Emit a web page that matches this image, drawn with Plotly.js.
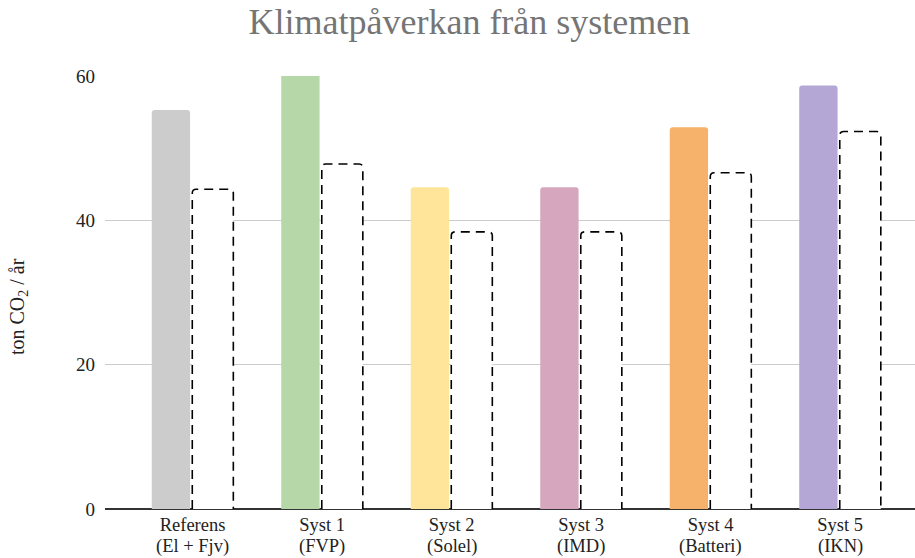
<!DOCTYPE html>
<html>
<head>
<meta charset="utf-8">
<script src="https://cdn.plot.ly/plotly-3.0.1.min.js"></script>
<style>html,body{margin:0;padding:0;background:#fff;}#chart{width:915px;height:558px;}</style>
</head>
<body>
<div id="chart"></div>
<script>
const categoryNames = ["Referens", "Syst 1", "Syst 2", "Syst 3", "Syst 4", "Syst 5"];
const categorySubs = ["(El + Fjv)", "(FVP)", "(Solel)", "(IMD)", "(Batteri)", "(IKN)"];
const filledValues = [55.3, 62, 44.6, 44.6, 52.9, 58.7];
const dashedValues = [44.3, 47.8, 38.4, 38.4, 46.6, 52.3];
const barColors = ["#cccccc", "#b6d7a8", "#ffe599", "#d5a6bd", "#f6b26b", "#b4a7d6"];
const yTicks = [0, 20, 40, 60];

const FONT = "Liberation Serif, Georgia, serif";
const xs = categoryNames.map((_, i) => i);

const filledOffset = -0.315, filledWidth = 0.296;
const dashOffset = -0.002, dashWidth = 0.317;

const traces = [
  {
    type: "bar", x: xs, y: filledValues,
    offset: filledOffset, width: filledWidth,
    marker: { color: barColors, cornerradius: 3, line: { width: 0 } },
    hoverinfo: "y", showlegend: false
  },
  {
    type: "bar", x: xs, y: dashedValues,
    offset: dashOffset, width: dashWidth,
    marker: { color: "#ffffff", line: { width: 0 } },
    hoverinfo: "y", showlegend: false
  }
];

// dashed outlines (open at the bottom, rounded top corners), derived from dashedValues
const rx = 0.03, ry = 0.55;
const shapes = dashedValues.map((v, i) => {
  const l = i + dashOffset, r = l + dashWidth;
  const path = `M ${l},0 L ${l},${v - ry} Q ${l},${v} ${l + rx},${v} L ${r - rx},${v} Q ${r},${v} ${r},${v - ry} L ${r},0`;
  return { type: "path", xref: "x", yref: "y", path: path, layer: "above",
           line: { color: "#000000", width: 1.6, dash: "9px,6px" } };
});

const annotations = [{
  text: "ton CO<sub>2</sub> / år", xref: "paper", yref: "paper",
  x: -0.107, y: 0.467, xanchor: "center", yanchor: "middle",
  textangle: -90, showarrow: false,
  font: { family: FONT, size: 20, color: "#222222" }
}].concat(categorySubs.map((s, i) => ({
  text: s, xref: "x", yref: "paper", x: i, y: 0,
  xanchor: "center", yanchor: "top", yshift: -25, showarrow: false,
  font: { family: FONT, size: 18.5, color: "#222222" }
})));

const layout = {
  width: 915, height: 558,
  margin: { l: 105, r: 0, t: 75.7, b: 48.5, pad: 0 },
  paper_bgcolor: "#ffffff", plot_bgcolor: "#ffffff",
  font: { family: FONT, color: "#222222", size: 19 },
  title: {
    text: "Klimatpåverkan från systemen",
    font: { family: FONT, size: 36, color: "#757575" },
    x: 0.513, xanchor: "center", y: 0.985, yanchor: "top"
  },
  barmode: "overlay",
  xaxis: {
    range: [-0.676, 5.579], tickvals: xs, ticktext: categoryNames,
    showgrid: false, zeroline: false, showline: false, ticks: "",
    ticklabelstandoff: 2,
    tickfont: { family: FONT, size: 18.5, color: "#222222" }, fixedrange: true
  },
  yaxis: {
    range: [0, 60], tickvals: yTicks, ticktext: yTicks.map(String),
    showgrid: true, gridcolor: "#cccccc", gridwidth: 1,
    zeroline: true, zerolinecolor: "#333333", zerolinewidth: 1.5,
    showline: false, ticks: "", ticklabelstandoff: 9,
    tickfont: { family: FONT, size: 19, color: "#222222" }, fixedrange: true
  },
  annotations: annotations,
  shapes: shapes
};

Plotly.newPlot("chart", traces, layout, { displayModeBar: false, staticPlot: true });
</script>
</body>
</html>
